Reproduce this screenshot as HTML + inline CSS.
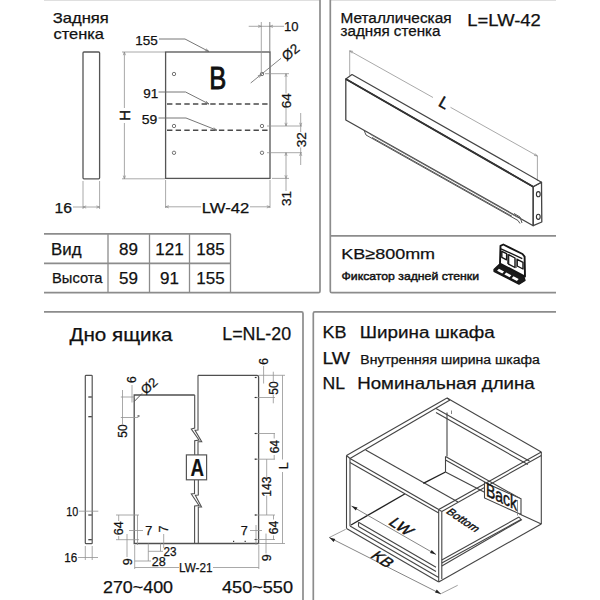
<!DOCTYPE html>
<html><head><meta charset="utf-8"><style>
html,body{margin:0;padding:0;background:#fff;width:600px;height:600px;overflow:hidden}
svg{display:block}
text{font-family:"Liberation Sans", sans-serif}
</style></head><body>
<svg width="600" height="600" viewBox="0 0 600 600">
<line x1="44" y1="0.3" x2="320" y2="0.3" stroke="#d8d8d8" stroke-width="1"/>
<line x1="330" y1="0.3" x2="556" y2="0.3" stroke="#d8d8d8" stroke-width="1"/>
<path d="M44,292.7 H318.5 Q320,292.7 320,291.2 V0" stroke="#8c8c8c" stroke-width="1.7" fill="none" />
<path d="M556,292.7 H331.8 Q330.3,292.7 330.3,291.2 V0" stroke="#8c8c8c" stroke-width="1.7" fill="none" />
<line x1="330.3" y1="235.8" x2="556" y2="235.8" stroke="#8c8c8c" stroke-width="1.7"/>
<path d="M44,600 V600 M44,311.9 H301.5 Q303,311.9 303,313.4 V600" stroke="#8c8c8c" stroke-width="1.7" fill="none" />
<path d="M556,311.9 H314.8 Q313.3,311.9 313.3,313.4 V600" stroke="#8c8c8c" stroke-width="1.7" fill="none" />
<line x1="44" y1="233.8" x2="230.5" y2="233.8" stroke="#8c8c8c" stroke-width="1.7"/>
<line x1="44" y1="263.3" x2="230.5" y2="263.3" stroke="#8c8c8c" stroke-width="1.7"/>
<line x1="108" y1="233.8" x2="108" y2="292.7" stroke="#8c8c8c" stroke-width="1.3"/>
<line x1="149.5" y1="233.8" x2="149.5" y2="292.7" stroke="#8c8c8c" stroke-width="1.3"/>
<line x1="189.5" y1="233.8" x2="189.5" y2="292.7" stroke="#8c8c8c" stroke-width="1.3"/>
<line x1="230.5" y1="233.8" x2="230.5" y2="292.7" stroke="#8c8c8c" stroke-width="1.3"/>
<text x="52.8" y="22.9" font-size="14.5" textLength="56" lengthAdjust="spacingAndGlyphs" stroke="#111" stroke-width="0.25" fill="#111" text-anchor="start">Задняя</text>
<text x="53.5" y="38.7" font-size="14.5" textLength="50.5" lengthAdjust="spacingAndGlyphs" stroke="#111" stroke-width="0.25" fill="#111" text-anchor="start">стенка</text>
<text x="51" y="254.7" font-size="16.5" textLength="30.5" lengthAdjust="spacingAndGlyphs" stroke="#111" stroke-width="0.25" fill="#111" text-anchor="start">Вид</text>
<text x="52" y="283.2" font-size="15" textLength="50.5" lengthAdjust="spacingAndGlyphs" stroke="#111" stroke-width="0.25" fill="#111" text-anchor="start">Высота</text>
<text x="128.5" y="254.7" font-size="17" stroke="#111" stroke-width="0.25" fill="#111" text-anchor="middle">89</text>
<text x="128.5" y="283.8" font-size="17" stroke="#111" stroke-width="0.25" fill="#111" text-anchor="middle">59</text>
<text x="169.5" y="254.7" font-size="17" stroke="#111" stroke-width="0.25" fill="#111" text-anchor="middle">121</text>
<text x="169.5" y="283.8" font-size="17" stroke="#111" stroke-width="0.25" fill="#111" text-anchor="middle">91</text>
<text x="210.5" y="254.7" font-size="17" stroke="#111" stroke-width="0.25" fill="#111" text-anchor="middle">185</text>
<text x="210.5" y="283.8" font-size="17" stroke="#111" stroke-width="0.25" fill="#111" text-anchor="middle">155</text>
<text x="340.5" y="22.5" font-size="14" textLength="111" lengthAdjust="spacingAndGlyphs" stroke="#111" stroke-width="0.25" fill="#111" text-anchor="start">Металлическая</text>
<text x="340.5" y="35.9" font-size="14" textLength="100" lengthAdjust="spacingAndGlyphs" stroke="#111" stroke-width="0.25" fill="#111" text-anchor="start">задняя стенка</text>
<text x="467.3" y="26.3" font-size="16" textLength="73.5" lengthAdjust="spacingAndGlyphs" stroke="#111" stroke-width="0.25" fill="#111" text-anchor="start">L=LW-42</text>
<text x="341.3" y="259.3" font-size="15.5" textLength="93.8" lengthAdjust="spacingAndGlyphs" stroke="#111" stroke-width="0.25" fill="#111" text-anchor="start">KB≥800mm</text>
<text x="341.5" y="280.1" font-size="11.5" textLength="137.5" lengthAdjust="spacingAndGlyphs" stroke="#111" stroke-width="0.45" fill="#111" text-anchor="start">Фиксатор задней стенки</text>
<text x="69.5" y="341" font-size="17.5" textLength="103" lengthAdjust="spacingAndGlyphs" stroke="#111" stroke-width="0.25" fill="#111" text-anchor="start">Дно ящика</text>
<text x="222.3" y="339.6" font-size="17.5" textLength="68.8" lengthAdjust="spacingAndGlyphs" stroke="#111" stroke-width="0.25" fill="#111" text-anchor="start">L=NL-20</text>
<text x="103" y="592.7" font-size="16" textLength="70" lengthAdjust="spacingAndGlyphs" stroke="#111" stroke-width="0.25" fill="#111" text-anchor="start">270~400</text>
<text x="222" y="592.7" font-size="16" textLength="71" lengthAdjust="spacingAndGlyphs" stroke="#111" stroke-width="0.25" fill="#111" text-anchor="start">450~550</text>
<text x="322.5" y="338.4" font-size="16" textLength="24" lengthAdjust="spacingAndGlyphs" stroke="#111" stroke-width="0.25" fill="#111" text-anchor="start">KB</text>
<text x="359.8" y="338.4" font-size="16" textLength="135" lengthAdjust="spacingAndGlyphs" stroke="#111" stroke-width="0.25" fill="#111" text-anchor="start">Ширина шкафа</text>
<text x="322.5" y="363.8" font-size="16.5" textLength="27.5" lengthAdjust="spacingAndGlyphs" stroke="#111" stroke-width="0.25" fill="#111" text-anchor="start">LW</text>
<text x="360.3" y="363.8" font-size="12" textLength="179.5" lengthAdjust="spacingAndGlyphs" stroke="#111" stroke-width="0.25" fill="#111" text-anchor="start">Внутренняя ширина шкафа</text>
<text x="322.5" y="388.7" font-size="16.5" textLength="22.5" lengthAdjust="spacingAndGlyphs" stroke="#111" stroke-width="0.25" fill="#111" text-anchor="start">NL</text>
<text x="357.2" y="388.7" font-size="16.5" textLength="177.5" lengthAdjust="spacingAndGlyphs" stroke="#111" stroke-width="0.25" fill="#111" text-anchor="start">Номинальная длина</text>
<rect x="83" y="52" width="16.6" height="126.8" rx="1" stroke="#555" stroke-width="1.3" fill="none"/>
<line x1="83" y1="181" x2="83" y2="209" stroke="#939393" stroke-width="0.8"/>
<line x1="99.6" y1="181" x2="99.6" y2="209" stroke="#939393" stroke-width="0.8"/>
<line x1="73" y1="207" x2="100" y2="207" stroke="#939393" stroke-width="0.8"/>
<polyline points="86.20,205.90 83,207 86.20,208.10" stroke="#8a8a8a" stroke-width="0.7" fill="none"/>
<polyline points="96.40,208.10 99.6,207 96.40,205.90" stroke="#8a8a8a" stroke-width="0.7" fill="none"/>
<text x="54.6" y="213" font-size="15.5" textLength="17.5" lengthAdjust="spacingAndGlyphs" stroke="#111" stroke-width="0.25" fill="#111" text-anchor="start">16</text>
<line x1="122" y1="52" x2="165" y2="52" stroke="#939393" stroke-width="0.8"/>
<line x1="122" y1="178.8" x2="165" y2="178.8" stroke="#939393" stroke-width="0.8"/>
<line x1="124.4" y1="52" x2="124.4" y2="108" stroke="#939393" stroke-width="0.8"/>
<line x1="124.4" y1="123" x2="124.4" y2="178.8" stroke="#939393" stroke-width="0.8"/>
<polyline points="125.50,55.20 124.4,52 123.30,55.20" stroke="#8a8a8a" stroke-width="0.7" fill="none"/>
<polyline points="123.30,175.60 124.4,178.8 125.50,175.60" stroke="#8a8a8a" stroke-width="0.7" fill="none"/>
<text transform="translate(124.6,115.4) rotate(-90)" x="0" y="5.40" font-size="15" stroke="#111" stroke-width="0.5" fill="#111" text-anchor="middle">H</text>
<rect x="165.6" y="52" width="104.4" height="126.4" stroke="#555" stroke-width="1.3" fill="none"/>
<circle cx="174" cy="74" r="1.7" stroke="#666" stroke-width="0.9" fill="none"/>
<circle cx="262" cy="74" r="1.7" stroke="#666" stroke-width="0.9" fill="none"/>
<circle cx="174" cy="126" r="1.7" stroke="#666" stroke-width="0.9" fill="none"/>
<circle cx="262" cy="126" r="1.7" stroke="#666" stroke-width="0.9" fill="none"/>
<circle cx="174" cy="152.8" r="1.7" stroke="#666" stroke-width="0.9" fill="none"/>
<circle cx="262" cy="152.8" r="1.7" stroke="#666" stroke-width="0.9" fill="none"/>
<line x1="167" y1="104" x2="270" y2="104" stroke="#4a4a4a" stroke-width="1.4" stroke-dasharray="5.4 3.25"/>
<line x1="167" y1="130.3" x2="270" y2="130.3" stroke="#4a4a4a" stroke-width="1.4" stroke-dasharray="5.4 3.25"/>
<text x="209.3" y="89.2" font-size="30.8" textLength="17" lengthAdjust="spacingAndGlyphs" stroke="#111" stroke-width="0.9" fill="#111" text-anchor="start">B</text>
<polyline points="159,39 185,39 209,51.6" stroke="#666" stroke-width="0.9" fill="none" stroke-linejoin="round"/>
<polyline points="204.90,50.80 209,51.6 206.02,48.68" stroke="#666" stroke-width="0.7" fill="none"/>
<polyline points="158.5,92 185.6,92 209,104" stroke="#666" stroke-width="0.9" fill="none" stroke-linejoin="round"/>
<polyline points="204.89,103.25 209,104 205.99,101.11" stroke="#666" stroke-width="0.7" fill="none"/>
<polyline points="158.5,118 186,118 217,130.3" stroke="#666" stroke-width="0.9" fill="none" stroke-linejoin="round"/>
<polyline points="212.84,129.94 217,130.3 213.72,127.71" stroke="#666" stroke-width="0.7" fill="none"/>
<text x="135.3" y="45.2" font-size="13" textLength="22.5" lengthAdjust="spacingAndGlyphs" stroke="#111" stroke-width="0.25" fill="#111" text-anchor="start">155</text>
<text x="143.3" y="98.2" font-size="13" textLength="15" lengthAdjust="spacingAndGlyphs" stroke="#111" stroke-width="0.25" fill="#111" text-anchor="start">91</text>
<text x="141.8" y="124.4" font-size="13" textLength="15.5" lengthAdjust="spacingAndGlyphs" stroke="#111" stroke-width="0.25" fill="#111" text-anchor="start">59</text>
<line x1="248.7" y1="26.3" x2="284" y2="26.3" stroke="#939393" stroke-width="0.8"/>
<line x1="261.3" y1="22" x2="261.3" y2="74" stroke="#939393" stroke-width="0.8"/>
<line x1="269.8" y1="22" x2="269.8" y2="52" stroke="#777" stroke-width="0.9"/>
<polyline points="258.10,27.40 261.3,26.3 258.10,25.20" stroke="#8a8a8a" stroke-width="0.7" fill="none"/>
<polyline points="273.00,25.20 269.8,26.3 273.00,27.40" stroke="#8a8a8a" stroke-width="0.7" fill="none"/>
<text x="284" y="30.8" font-size="13" textLength="14.5" lengthAdjust="spacingAndGlyphs" stroke="#111" stroke-width="0.25" fill="#111" text-anchor="start">10</text>
<line x1="250.7" y1="83" x2="281" y2="58.3" stroke="#777" stroke-width="0.9"/>
<polyline points="259.34,77.64 261.3,74.5 257.82,75.77" stroke="#777" stroke-width="0.7" fill="none"/>
<text transform="translate(290.5,52) rotate(-39)" x="0" y="4.86" font-size="13.5" stroke="#111" stroke-width="0.25" fill="#111" text-anchor="middle">Ø2</text>
<line x1="265" y1="73.7" x2="289" y2="73.7" stroke="#939393" stroke-width="0.8"/>
<line x1="267" y1="126" x2="302" y2="126" stroke="#939393" stroke-width="0.8"/>
<line x1="267" y1="152.7" x2="302" y2="152.7" stroke="#939393" stroke-width="0.8"/>
<line x1="272" y1="178.4" x2="289" y2="178.4" stroke="#939393" stroke-width="0.8"/>
<line x1="286" y1="73.7" x2="286" y2="93.5" stroke="#939393" stroke-width="0.8"/>
<line x1="286" y1="108" x2="286" y2="126" stroke="#939393" stroke-width="0.8"/>
<polyline points="287.10,76.90 286,73.7 284.90,76.90" stroke="#8a8a8a" stroke-width="0.7" fill="none"/>
<polyline points="284.90,122.80 286,126 287.10,122.80" stroke="#8a8a8a" stroke-width="0.7" fill="none"/>
<text transform="translate(286,100.7) rotate(-90)" x="0" y="4.86" font-size="13.5" stroke="#111" stroke-width="0.25" fill="#111" text-anchor="middle">64</text>
<line x1="300.7" y1="113" x2="300.7" y2="132" stroke="#939393" stroke-width="0.8"/>
<line x1="300.7" y1="147.5" x2="300.7" y2="165" stroke="#939393" stroke-width="0.8"/>
<polyline points="299.60,122.80 300.7,126 301.80,122.80" stroke="#8a8a8a" stroke-width="0.7" fill="none"/>
<polyline points="301.80,155.90 300.7,152.7 299.60,155.90" stroke="#8a8a8a" stroke-width="0.7" fill="none"/>
<text transform="translate(300.7,139.7) rotate(-90)" x="0" y="4.86" font-size="13.5" stroke="#111" stroke-width="0.25" fill="#111" text-anchor="middle">32</text>
<line x1="286" y1="152.7" x2="286" y2="191" stroke="#939393" stroke-width="0.8"/>
<polyline points="287.10,155.90 286,152.7 284.90,155.90" stroke="#8a8a8a" stroke-width="0.7" fill="none"/>
<polyline points="284.90,175.20 286,178.4 287.10,175.20" stroke="#8a8a8a" stroke-width="0.7" fill="none"/>
<text transform="translate(286,198.5) rotate(-90)" x="0" y="4.86" font-size="13.5" stroke="#111" stroke-width="0.25" fill="#111" text-anchor="middle">31</text>
<line x1="165.6" y1="180" x2="165.6" y2="208" stroke="#939393" stroke-width="0.8"/>
<line x1="270" y1="180" x2="270" y2="208" stroke="#939393" stroke-width="0.8"/>
<line x1="165.6" y1="206.8" x2="201" y2="206.8" stroke="#939393" stroke-width="0.8"/>
<line x1="250" y1="206.8" x2="270" y2="206.8" stroke="#939393" stroke-width="0.8"/>
<polyline points="168.80,205.70 165.6,206.8 168.80,207.90" stroke="#8a8a8a" stroke-width="0.7" fill="none"/>
<polyline points="266.80,207.90 270,206.8 266.80,205.70" stroke="#8a8a8a" stroke-width="0.7" fill="none"/>
<text x="201.8" y="212.5" font-size="15.5" textLength="47.5" lengthAdjust="spacingAndGlyphs" stroke="#111" stroke-width="0.25" fill="#111" text-anchor="start">LW-42</text>
<line x1="349.7" y1="50.8" x2="433" y2="97.5" stroke="#939393" stroke-width="0.8"/>
<line x1="450.5" y1="107.3" x2="537.4" y2="156" stroke="#939393" stroke-width="0.8"/>
<line x1="349.7" y1="50.8" x2="349.7" y2="75.5" stroke="#939393" stroke-width="0.8"/>
<line x1="537.4" y1="156" x2="537.4" y2="181" stroke="#939393" stroke-width="0.8"/>
<polyline points="353.03,51.41 349.7,50.8 351.95,53.33" stroke="#8a8a8a" stroke-width="0.7" fill="none"/>
<polyline points="534.07,155.39 537.4,156 535.15,153.47" stroke="#8a8a8a" stroke-width="0.7" fill="none"/>
<text transform="translate(444.3,102.5) rotate(30)" x="0" y="5.76" font-size="16" stroke="#111" stroke-width="0.5" fill="#111" text-anchor="middle">L</text>
<polygon points="345.8,79 533.2,186.7 533.2,225.7 345.8,120" stroke="#444" stroke-width="1.3" fill="none" stroke-linejoin="round"/>
<polygon points="345.8,79 352,74.5 541.5,182.2 533.2,186.7" stroke="#444" stroke-width="1.2" fill="none" stroke-linejoin="round"/>
<polygon points="533.2,186.7 541.5,182.2 541.8,222 533.2,225.7" stroke="#444" stroke-width="1.3" fill="none" stroke-linejoin="round"/>
<line x1="345.8" y1="79" x2="533.2" y2="186.7" stroke="#333" stroke-width="1.8"/>
<ellipse cx="538.3" cy="194.2" rx="1.9" ry="2.6" stroke="#333" stroke-width="1.1" fill="none"/>
<ellipse cx="538.3" cy="216.8" rx="1.9" ry="2.6" stroke="#333" stroke-width="1.1" fill="none"/>
<polyline points="364,130.2 366,135 518,220.5 520,223.5" stroke="#555" stroke-width="1.0" fill="none" stroke-linejoin="round"/>
<line x1="370" y1="134.2" x2="517" y2="217" stroke="#777" stroke-width="0.8"/>
<line x1="372" y1="137.5" x2="512" y2="216.3" stroke="#555" stroke-width="1.0"/>
<polyline points="514,213.5 520,217 522,223" stroke="#555" stroke-width="1.0" fill="none" stroke-linejoin="round"/>
<g fill="none" stroke="#151515" stroke-linejoin="round">
<polygon points="500.5,245.8 503.3,244.5 522.5,254 524.6,256.6 525,276.5 500,263.5" stroke-width="1.9" fill="#fff"/>
<polyline points="501,248.8 522.3,258.6" stroke-width="1.3"/>
<polygon points="501.8,251.3 506.6,253.7 506.6,259.8 501.8,257.4" stroke-width="1.4"/>
<polygon points="508.6,254.6 515,258 515,267.5 508.6,264.2" stroke-width="1.4"/>
<polygon points="517.2,259.3 523,262.3 523,269 517.2,266" stroke-width="1.4"/>
<line x1="507.6" y1="254" x2="507.6" y2="264" stroke-width="1.2" stroke="#555"/>
<line x1="516.1" y1="258.5" x2="516.1" y2="268" stroke-width="1.2" stroke="#555"/>
<polygon points="494,269.5 499.5,264.3 524,276.8 525,280.5 519,284.2 494,271.3" stroke-width="1.3" fill="#1a1a1a"/>
<polygon points="498.90,268.85 504.10,271.55 502.30,273.55 497.10,270.85" stroke="none" fill="#fff"/>
<polygon points="506.20,272.55 511.40,275.25 509.60,277.25 504.40,274.55" stroke="none" fill="#fff"/>
<polygon points="513.50,276.25 518.70,278.95 516.90,280.95 511.70,278.25" stroke="none" fill="#fff"/>
</g>
<rect x="85.3" y="375.3" width="6.9" height="168.4" rx="0.8" stroke="#555" stroke-width="1.2" fill="none"/>
<line x1="88.3" y1="397" x2="91.8" y2="397" stroke="#333" stroke-width="1.2"/>
<line x1="88.3" y1="416.7" x2="91.8" y2="416.7" stroke="#333" stroke-width="1.2"/>
<line x1="88.3" y1="515" x2="91.8" y2="515" stroke="#333" stroke-width="1.2"/>
<line x1="88.3" y1="539.7" x2="91.8" y2="539.7" stroke="#333" stroke-width="1.2"/>
<line x1="79" y1="511.2" x2="98.3" y2="511.2" stroke="#939393" stroke-width="0.8"/>
<text x="66.3" y="516" font-size="13" textLength="12" lengthAdjust="spacingAndGlyphs" stroke="#111" stroke-width="0.25" fill="#111" text-anchor="start">10</text>
<line x1="85.3" y1="546" x2="85.3" y2="560" stroke="#939393" stroke-width="0.8"/>
<line x1="92.2" y1="546" x2="92.2" y2="560" stroke="#939393" stroke-width="0.8"/>
<line x1="78" y1="557.5" x2="98" y2="557.5" stroke="#939393" stroke-width="0.8"/>
<text x="64.3" y="562.3" font-size="13" textLength="13" lengthAdjust="spacingAndGlyphs" stroke="#111" stroke-width="0.25" fill="#111" text-anchor="start">16</text>
<path d="M194.7,395 H134.2 V543.5 H258.6 V377 Q258.6,375.3 257,375.3 H198" stroke="#4f4f4f" stroke-width="1.3" fill="none" />
<path d="M194.7,395 V428 L191.3,429 L199,440 L194.7,440.7 V454.9" stroke="#4f4f4f" stroke-width="1.1" fill="none" />
<path d="M198,375.3 V430 L195,430.3 L201.7,441.7 L198,441.7 V454.9" stroke="#4f4f4f" stroke-width="1.1" fill="none" />
<path d="M194.5,479.8 V493.5 L191.3,494 L199,505.5 L194.6,506 V543.5" stroke="#4f4f4f" stroke-width="1.1" fill="none" />
<path d="M198.3,479.8 V495 L195.3,495.3 L201.5,507 L198.3,507 V543.5" stroke="#4f4f4f" stroke-width="1.1" fill="none" />
<rect x="186.4" y="454.9" width="20.2" height="24.9" stroke="#555" stroke-width="1.2" fill="#fff"/>
<text x="190.6" y="476" font-size="23" font-weight="700" textLength="13.5" lengthAdjust="spacingAndGlyphs" stroke="#111" stroke-width="0.2" fill="#111" text-anchor="start">A</text>
<line x1="132" y1="385" x2="132" y2="402.5" stroke="#939393" stroke-width="0.8"/>
<text transform="translate(131.7,379.6) rotate(-90)" x="0" y="4.32" font-size="12" stroke="#111" stroke-width="0.25" fill="#111" text-anchor="middle">6</text>
<line x1="120.8" y1="397" x2="135" y2="397" stroke="#939393" stroke-width="0.8"/>
<line x1="120.8" y1="417.5" x2="138.3" y2="417.5" stroke="#939393" stroke-width="0.8"/>
<line x1="137.5" y1="416" x2="139.5" y2="416" stroke="#333" stroke-width="1.2"/>
<line x1="122.5" y1="390" x2="122.5" y2="424" stroke="#939393" stroke-width="0.8"/>
<text transform="translate(123,431) rotate(-90)" x="0" y="4.32" font-size="12" stroke="#111" stroke-width="0.25" fill="#111" text-anchor="middle">50</text>
<line x1="134.2" y1="401.5" x2="142" y2="393.5" stroke="#555" stroke-width="1.0"/>
<text transform="translate(149,385.7) rotate(-42)" x="0" y="4.68" font-size="13" stroke="#111" stroke-width="0.25" fill="#111" text-anchor="middle">Ø2</text>
<line x1="116" y1="515" x2="139" y2="515" stroke="#939393" stroke-width="0.8"/>
<line x1="116" y1="539.7" x2="139" y2="539.7" stroke="#939393" stroke-width="0.8"/>
<line x1="118.7" y1="515" x2="118.7" y2="521" stroke="#939393" stroke-width="0.8"/>
<line x1="118.7" y1="536" x2="118.7" y2="539.7" stroke="#939393" stroke-width="0.8"/>
<text transform="translate(118.7,528.3) rotate(-90)" x="0" y="4.50" font-size="12.5" stroke="#111" stroke-width="0.25" fill="#111" text-anchor="middle">64</text>
<line x1="129" y1="530.5" x2="143" y2="530.5" stroke="#939393" stroke-width="0.8"/>
<line x1="137.5" y1="515" x2="137.5" y2="545" stroke="#939393" stroke-width="0.8"/>
<text x="145.2" y="534.5" font-size="12.5" textLength="7" lengthAdjust="spacingAndGlyphs" stroke="#111" stroke-width="0.25" fill="#111" text-anchor="start">7</text>
<line x1="127" y1="534" x2="127" y2="557" stroke="#939393" stroke-width="0.8"/>
<text transform="translate(127.5,561.7) rotate(-90)" x="0" y="4.50" font-size="12.5" stroke="#111" stroke-width="0.25" fill="#111" text-anchor="middle">9</text>
<line x1="134.7" y1="561" x2="151" y2="561" stroke="#939393" stroke-width="0.8"/>
<text x="151.8" y="566.2" font-size="12.5" textLength="14" lengthAdjust="spacingAndGlyphs" stroke="#111" stroke-width="0.25" fill="#111" text-anchor="start">28</text>
<line x1="148.3" y1="543.5" x2="148.3" y2="561" stroke="#939393" stroke-width="0.8"/>
<line x1="160.5" y1="543.5" x2="160.5" y2="551.3" stroke="#939393" stroke-width="0.8"/>
<line x1="163.7" y1="534" x2="163.7" y2="548" stroke="#939393" stroke-width="0.8"/>
<line x1="148.3" y1="551.3" x2="163" y2="551.3" stroke="#939393" stroke-width="0.8"/>
<text x="163.5" y="556" font-size="12.5" textLength="13" lengthAdjust="spacingAndGlyphs" stroke="#111" stroke-width="0.25" fill="#111" text-anchor="start">23</text>
<text transform="translate(163.3,529) rotate(-90)" x="0" y="4.50" font-size="12.5" stroke="#111" stroke-width="0.25" fill="#111" text-anchor="middle">7</text>
<line x1="134.7" y1="545" x2="134.7" y2="569" stroke="#939393" stroke-width="0.8"/>
<line x1="258.8" y1="545" x2="258.8" y2="569" stroke="#939393" stroke-width="0.8"/>
<line x1="134.7" y1="567.5" x2="179" y2="567.5" stroke="#939393" stroke-width="0.8"/>
<line x1="213" y1="567.5" x2="258.8" y2="567.5" stroke="#939393" stroke-width="0.8"/>
<text x="179" y="572" font-size="12.5" textLength="33.5" lengthAdjust="spacingAndGlyphs" stroke="#111" stroke-width="0.25" fill="#111" text-anchor="start">LW-21</text>
<line x1="258.6" y1="375.3" x2="285" y2="375.3" stroke="#939393" stroke-width="0.8"/>
<line x1="258.6" y1="543.5" x2="285" y2="543.5" stroke="#939393" stroke-width="0.8"/>
<line x1="282.5" y1="375.3" x2="282.5" y2="459.5" stroke="#939393" stroke-width="0.8"/>
<line x1="282.5" y1="472" x2="282.5" y2="543.5" stroke="#939393" stroke-width="0.8"/>
<text transform="translate(283.3,465.8) rotate(-90)" x="0" y="4.50" font-size="12.5" stroke="#111" stroke-width="0.25" fill="#111" text-anchor="middle">L</text>
<line x1="263.6" y1="366" x2="263.6" y2="383.5" stroke="#939393" stroke-width="0.8"/>
<text transform="translate(263.8,361.3) rotate(-90)" x="0" y="4.32" font-size="12" stroke="#111" stroke-width="0.25" fill="#111" text-anchor="middle">6</text>
<line x1="273.3" y1="371.7" x2="273.3" y2="381" stroke="#939393" stroke-width="0.8"/>
<line x1="273.3" y1="395" x2="273.3" y2="403.3" stroke="#939393" stroke-width="0.8"/>
<text transform="translate(273.75,388) rotate(-90)" x="0" y="4.32" font-size="12" stroke="#111" stroke-width="0.25" fill="#111" text-anchor="middle">50</text>
<line x1="254.5" y1="397.5" x2="275" y2="397.5" stroke="#939393" stroke-width="0.8"/>
<line x1="254.8" y1="397.5" x2="256.6" y2="397.5" stroke="#333" stroke-width="1.2"/>
<line x1="254.5" y1="433.5" x2="275" y2="433.5" stroke="#939393" stroke-width="0.8"/>
<line x1="254.8" y1="433.5" x2="256.6" y2="433.5" stroke="#333" stroke-width="1.2"/>
<line x1="254.5" y1="459.2" x2="275" y2="459.2" stroke="#939393" stroke-width="0.8"/>
<line x1="254.8" y1="459.2" x2="256.6" y2="459.2" stroke="#333" stroke-width="1.2"/>
<line x1="254.5" y1="515" x2="275" y2="515" stroke="#939393" stroke-width="0.8"/>
<line x1="254.8" y1="515" x2="256.6" y2="515" stroke="#333" stroke-width="1.2"/>
<line x1="254.5" y1="539.5" x2="275" y2="539.5" stroke="#939393" stroke-width="0.8"/>
<line x1="254.8" y1="539.5" x2="256.6" y2="539.5" stroke="#333" stroke-width="1.2"/>
<line x1="254.8" y1="377.5" x2="256.6" y2="377.5" stroke="#333" stroke-width="1.2"/>
<line x1="274.2" y1="433.5" x2="274.2" y2="438.5" stroke="#939393" stroke-width="0.8"/>
<line x1="274.2" y1="455" x2="274.2" y2="459.2" stroke="#939393" stroke-width="0.8"/>
<text transform="translate(274.2,446.7) rotate(-90)" x="0" y="4.32" font-size="12" stroke="#111" stroke-width="0.25" fill="#111" text-anchor="middle">64</text>
<line x1="266.7" y1="459.2" x2="266.7" y2="478" stroke="#939393" stroke-width="0.8"/>
<line x1="266.7" y1="495.5" x2="266.7" y2="515" stroke="#939393" stroke-width="0.8"/>
<text transform="translate(266.7,486.7) rotate(-90)" x="0" y="4.32" font-size="12" stroke="#111" stroke-width="0.25" fill="#111" text-anchor="middle">143</text>
<line x1="273.5" y1="515" x2="273.5" y2="519.5" stroke="#939393" stroke-width="0.8"/>
<line x1="273.5" y1="535.5" x2="273.5" y2="540" stroke="#939393" stroke-width="0.8"/>
<text transform="translate(273.5,527.5) rotate(-90)" x="0" y="4.32" font-size="12" stroke="#111" stroke-width="0.25" fill="#111" text-anchor="middle">64</text>
<line x1="250" y1="530.5" x2="262" y2="530.5" stroke="#939393" stroke-width="0.8"/>
<line x1="256" y1="525" x2="256" y2="545" stroke="#939393" stroke-width="0.8"/>
<text x="240.7" y="534.8" font-size="12.5" textLength="7" lengthAdjust="spacingAndGlyphs" stroke="#111" stroke-width="0.25" fill="#111" text-anchor="start">7</text>
<line x1="266" y1="533.6" x2="266" y2="553.5" stroke="#939393" stroke-width="0.8"/>
<text transform="translate(266.1,557.7) rotate(-90)" x="0" y="4.50" font-size="12.5" stroke="#111" stroke-width="0.25" fill="#111" text-anchor="middle">9</text>
<line x1="233" y1="541.3" x2="234.2" y2="541.3" stroke="#333" stroke-width="1.2"/>
<line x1="244.6" y1="541.3" x2="245.8" y2="541.3" stroke="#333" stroke-width="1.2"/>
<line x1="346.5" y1="455.5" x2="447" y2="398" stroke="#444" stroke-width="1.1"/>
<line x1="350" y1="458.5" x2="450" y2="400" stroke="#444" stroke-width="1.1"/>
<line x1="447" y1="398" x2="450" y2="400" stroke="#444" stroke-width="1.1"/>
<line x1="346.5" y1="455.5" x2="346.5" y2="528.5" stroke="#444" stroke-width="1.1"/>
<line x1="350" y1="458.5" x2="350" y2="526" stroke="#444" stroke-width="1.1"/>
<line x1="346.5" y1="455.5" x2="350" y2="458.5" stroke="#444" stroke-width="1.1"/>
<line x1="350" y1="458.5" x2="438.7" y2="509.6" stroke="#444" stroke-width="1.1"/>
<line x1="350" y1="462.5" x2="438.7" y2="513" stroke="#444" stroke-width="1.1"/>
<line x1="365.7" y1="450" x2="458" y2="502" stroke="#444" stroke-width="1.1"/>
<line x1="438.7" y1="509.6" x2="541.3" y2="452" stroke="#444" stroke-width="1.1"/>
<line x1="441.8" y1="511.5" x2="541.3" y2="455.5" stroke="#444" stroke-width="1.1"/>
<line x1="438.7" y1="509.6" x2="441.8" y2="511.5" stroke="#444" stroke-width="1.1"/>
<line x1="438.7" y1="509.6" x2="438.7" y2="582" stroke="#444" stroke-width="1.1"/>
<line x1="441.8" y1="511.5" x2="441.8" y2="579" stroke="#444" stroke-width="1.1"/>
<line x1="541.3" y1="452" x2="541.3" y2="524" stroke="#444" stroke-width="1.1"/>
<line x1="438.7" y1="582" x2="541.3" y2="524" stroke="#444" stroke-width="1.1"/>
<line x1="519.5" y1="514" x2="541.3" y2="524" stroke="#444" stroke-width="1.1"/>
<line x1="441.8" y1="566" x2="522" y2="519.5" stroke="#444" stroke-width="1.1"/>
<line x1="447" y1="398" x2="541.3" y2="452" stroke="#444" stroke-width="1.1"/>
<line x1="436" y1="408.5" x2="529.7" y2="461.3" stroke="#444" stroke-width="1.1"/>
<line x1="436" y1="412.5" x2="527.9" y2="464.6" stroke="#444" stroke-width="1.1"/>
<line x1="447" y1="412.5" x2="447" y2="456.5" stroke="#444" stroke-width="1.1"/>
<line x1="346.5" y1="528.5" x2="438.7" y2="582" stroke="#444" stroke-width="1.1"/>
<line x1="350" y1="526" x2="438.7" y2="577.5" stroke="#444" stroke-width="1.1"/>
<line x1="351" y1="525" x2="404.7" y2="494" stroke="#222" stroke-width="1.4"/>
<line x1="423.3" y1="483.3" x2="445.5" y2="472" stroke="#222" stroke-width="1.4"/>
<line x1="445.5" y1="456.5" x2="445.5" y2="472" stroke="#444" stroke-width="1.1"/>
<line x1="445.5" y1="456.5" x2="521" y2="499" stroke="#444" stroke-width="1.1"/>
<line x1="445.5" y1="460" x2="518" y2="500.5" stroke="#444" stroke-width="1.1"/>
<line x1="445.5" y1="472" x2="485" y2="492.5" stroke="#444" stroke-width="1.1"/>
<polygon points="484.5,482.5 521,498.8 521,514.5 484.5,498" stroke="#444" stroke-width="1.1" fill="#fff"/>
<line x1="517.5" y1="500" x2="517.5" y2="515.5" stroke="#777" stroke-width="0.8"/>
<text transform="translate(486,495.5) skewY(26)" x="0" y="0" font-size="19" fill="#111" stroke="#111" stroke-width="0.45" textLength="31" lengthAdjust="spacingAndGlyphs">Back</text>
<line x1="358.5" y1="522.2" x2="436" y2="567.2" stroke="#444" stroke-width="1.1"/>
<line x1="358.5" y1="526.6" x2="436" y2="571.6" stroke="#444" stroke-width="1.1"/>
<line x1="358.5" y1="522.2" x2="358.5" y2="526.6" stroke="#444" stroke-width="1.1"/>
<line x1="441.8" y1="560" x2="519" y2="517" stroke="#444" stroke-width="1.1"/>
<line x1="441.8" y1="563" x2="521" y2="519.5" stroke="#444" stroke-width="1.1"/>
<line x1="519" y1="517" x2="521" y2="519.5" stroke="#444" stroke-width="1.1"/>
<text transform="matrix(0.83,0.55,-0.81,0.59,445.3,512.6)" x="0" y="0" font-size="11.5" fill="#111" stroke="#111" stroke-width="0.4" textLength="36" lengthAdjust="spacingAndGlyphs">Bottom</text>
<line x1="351.5" y1="506" x2="436" y2="554.5" stroke="#666" stroke-width="0.8"/>
<polygon points="351.5,506 357.5,507.5 355.8,510.5" fill="#222"/>
<polygon points="436,554.5 430,553 431.7,550" fill="#222"/>
<text transform="matrix(0.83,0.55,-0.81,0.59,387.6,523.6)" x="0" y="0" font-size="16" fill="#111" stroke="#111" stroke-width="0.45" textLength="23" lengthAdjust="spacingAndGlyphs">LW</text>
<line x1="345.7" y1="529.3" x2="329.3" y2="537.5" stroke="#888" stroke-width="0.8"/>
<line x1="329.3" y1="537.5" x2="441" y2="594" stroke="#666" stroke-width="0.8"/>
<polygon points="329.3,537.5 335.3,539 333.6,542" fill="#222"/>
<polygon points="441,594 435,592.5 436.7,589.5" fill="#222"/>
<line x1="441.3" y1="593.5" x2="457.7" y2="585.3" stroke="#888" stroke-width="0.8"/>
<text transform="matrix(0.83,0.55,-0.81,0.59,369.6,556.8)" x="0" y="0" font-size="16" fill="#111" stroke="#111" stroke-width="0.45" textLength="21" lengthAdjust="spacingAndGlyphs">KB</text>
<line x1="451.5" y1="410.5" x2="451.5" y2="414" stroke="#666" stroke-width="0.8"/>
</svg>
</body></html>
